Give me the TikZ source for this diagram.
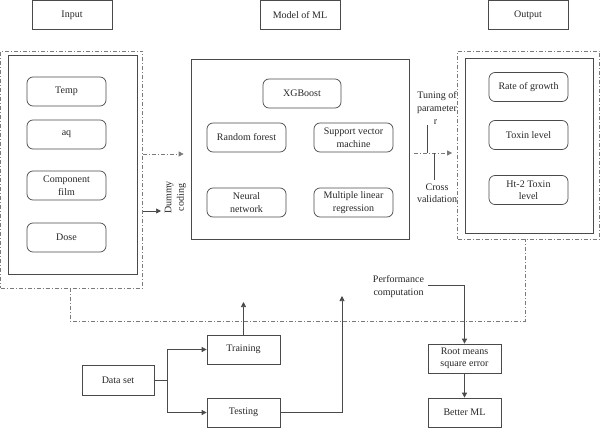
\documentclass[tikz,border=0pt]{standalone}
\usepackage{fontspec}
\setmainfont{Liberation Serif}
\usetikzlibrary{arrows.meta}
\definecolor{ln}{HTML}{4A4A4A}
\definecolor{dl}{HTML}{7A7A7A}
\tikzset{
  base/.style={draw=ln, line width=0.7pt, inner sep=1pt, align=center, font=\fontsize{10}{12.5}\selectfont, text=black!85},
  lbl/.style={base, minimum width=80pt, minimum height=29pt},
  sbox/.style={base, minimum width=73pt, minimum height=29pt},
  rbox/.style={base, rounded corners=6pt, minimum width=79pt, minimum height=29pt},
  frame/.style={draw=ln, line width=0.7pt, inner sep=0pt},
  ddframe/.style={draw=dl, line width=0.7pt, inner sep=0pt, dash pattern=on 4pt off 2pt on 1pt off 2pt},
  ddline/.style={draw=dl, line width=0.7pt, dash pattern=on 4pt off 2pt on 1pt off 2pt},
  conn/.style={draw=ln, line width=0.7pt},
  tip/.style={-{Triangle[length=5pt,width=5pt]}},
  txt/.style={align=center, inner sep=0pt, font=\fontsize{10}{12.5}\selectfont, text=black!85}
}
\begin{document}
\begin{tikzpicture}[x=1pt,y=-1pt]
\useasboundingbox (0,0) rectangle (600,428);
% top labels
\node[lbl] (linput) at (72,14.8) {Input};
\node[lbl] (lmodel) at (300,14.8) {Model of ML};
\node[lbl] (loutput) at (528,14.8) {Output};
% input group
\node[ddframe, minimum width=142pt, minimum height=237pt] (inOuter) at (71.5,169.5) {};
\node[frame, minimum width=129pt, minimum height=219pt] (inInner) at (72.5,164.5) {};
\node[rbox] (temp) at (66.5,91.5) {Temp};
\node[rbox] (aq) at (66.5,134.5) {aq};
\node[rbox] (comp) at (66.5,185.5) {Component\\film};
\node[rbox] (dose) at (66.5,237.5) {Dose};
% model group
\node[frame, minimum width=218pt, minimum height=180pt] (model) at (300,149) {};
\node[rbox, minimum width=78pt] (xgb) at (302,93.5) {XGBoost};
\node[rbox] (rf) at (246.5,137.5) {Random forest};
\node[rbox] (svm) at (353.5,137.5) {Support vector\\machine};
\node[rbox] (nn) at (246.5,202.5) {Neural\\network};
\node[rbox] (mlr) at (353.5,202.5) {Multiple linear\\regression};
% output group
\node[ddframe, minimum width=142pt, minimum height=188pt] (outOuter) at (528.5,145) {};
\node[frame, minimum width=128pt, minimum height=175pt] (outInner) at (529,145.5) {};
\node[rbox] (rog) at (528.5,87) {Rate of growth};
\node[rbox] (tox) at (528.5,135) {Toxin level};
\node[rbox] (ht2) at (528.5,190) {Ht-2 Toxin\\level};
% input -> model
\draw[ddline, tip, shorten >=7pt] (inOuter.east |- 0,154) -- (model.west |- 0,154);
\coordinate (dcend) at (161,211);
\draw[conn, tip] (inOuter.east |- dcend) -- (dcend);
\node[txt, rotate=90] (dummy) at (175.5,197.5) {Dummy\\coding};
% model -> output
\draw[ddline, tip, shorten <=5pt, shorten >=5pt] (model.east |- 0,153) -- (outOuter.west |- 0,153);
\node[txt] (tuning) at (437,102.5) {Tuning of\\parameter};
\node[txt] (rr) at (435.5,122.5) {r};
\coordinate (tuTop) at (427,125);
\coordinate (tuBot) at (427,153);
\draw[conn] (tuTop) -- (tuBot);
\node[txt] (cross) at (437,193) {Cross\\validation};
\coordinate (cvTop) at (434,153);
\coordinate (cvBot) at (434,180);
\draw[conn] (cvTop) -- (cvBot);
% feedback dash-dot loop
\coordinate (loopL) at (70,321);
\coordinate (loopR) at (525,321);
\draw[ddline] (inOuter.south -| loopL) -- (loopL) -- (loopR) -- (outOuter.south -| loopR);
% bottom part
\node[sbox, minimum width=72pt, minimum height=30pt] (data) at (118,380) {Data set};
\node[sbox] (train) at (243.5,349.5) {Training};
\node[sbox] (test) at (243.5,412.5) {Testing};
\coordinate (split) at (167,380);
\draw[conn] (data.east) -- (split);
\draw[conn, tip] (split) |- (train.west);
\draw[conn, tip] (split) |- (test.west);
\coordinate (trainUp) at (243.5,302);
\draw[conn, tip] (train.north) -- (trainUp);
\coordinate (testUp) at (342,296);
\draw[conn, tip] (test.east) -| (testUp);
\node[txt] (perf) at (398.5,286.5) {Performance\\computation};
\coordinate (perfStart) at (428,285);
\node[sbox] (rmse) at (464.5,358.5) {Root means\\square error};
\node[sbox] (better) at (464.5,412.5) {Better ML};
\draw[conn, tip] (perfStart) -| (rmse.north);
\draw[conn, tip] (rmse.south) -- (better.north);
\end{tikzpicture}
\end{document}
